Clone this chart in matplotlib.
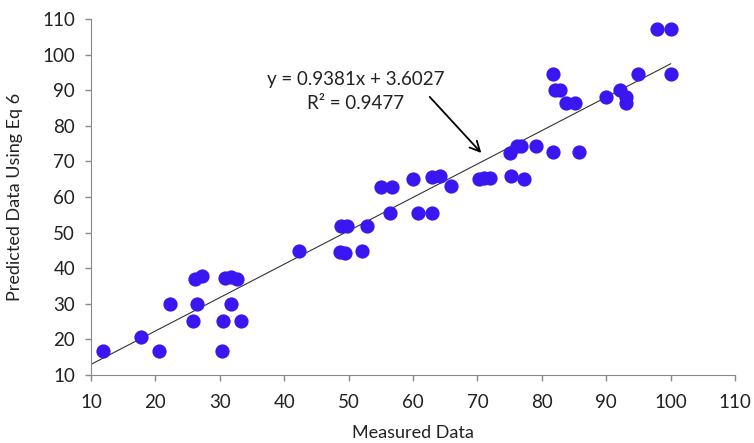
import matplotlib
matplotlib.use("Agg")
import matplotlib.pyplot as plt
import numpy as np

# measured vs predicted values
measured = [11.9, 17.8, 20.6, 22.3, 25.9, 26.5, 26.1, 27.2, 30.4, 30.5,
            30.8, 31.7, 32.6, 31.8, 33.3, 42.3, 48.6, 49.4, 48.8, 49.8,
            52.1, 52.9, 55.1, 56.8, 56.4, 60.0, 60.8, 62.9, 62.9, 64.2,
            65.9, 70.3, 71.0, 72.0, 75.0, 75.2, 76.2, 76.7, 77.2, 79.1,
            81.8, 85.8, 81.8, 82.0, 82.8, 83.8, 85.2, 89.9, 92.1, 93.1,
            93.1, 95.0, 97.9, 100.0, 100.0]
predicted = [16.7, 20.6, 16.7, 29.9, 25.2, 29.9, 37.0, 37.8, 16.7, 25.2,
             37.2, 37.6, 37.0, 29.9, 25.2, 44.8, 44.6, 44.2, 51.9, 51.9,
             44.9, 51.9, 62.9, 62.9, 55.4, 65.0, 55.4, 65.7, 55.4, 65.9,
             63.1, 65.1, 65.2, 65.3, 72.4, 66.0, 74.4, 74.4, 65.1, 74.4,
             72.6, 72.6, 94.6, 90.1, 90.1, 86.3, 86.3, 88.2, 90.1, 88.2,
             86.3, 94.6, 107.1, 107.1, 94.6]
slope = 0.9381
intercept = 3.6027
r2 = 0.9477
fit_x = [10, 100]
x_ticks = [10, 20, 30, 40, 50, 60, 70, 80, 90, 100, 110]
y_ticks = [10, 20, 30, 40, 50, 60, 70, 80, 90, 100, 110]

plt.rcParams['font.family'] = ['Lato', 'DejaVu Sans']

fig = plt.figure(figsize=(7.54, 4.43), dpi=100)
ax = fig.add_axes([0.1207, 0.1535, 0.8541, 0.8036])

ax.scatter(measured, predicted, s=105, color='#3A16F0', zorder=3, linewidths=0)
fx = np.array(fit_x)
ax.plot(fx, slope * fx + intercept, color='#333333', lw=0.8, zorder=2)

ax.set_xlim(10, 110)
ax.set_ylim(10, 110)
ax.set_xticks(x_ticks)
ax.set_yticks(y_ticks)
ax.tick_params(labelsize=13.5, colors='#888888', length=4.5, width=1,
               labelcolor='#222222', direction='out')
ax.tick_params(axis='x', pad=9)
ax.tick_params(axis='y', pad=7)
for s in ['top', 'right']:
    ax.spines[s].set_visible(False)
for s in ['left', 'bottom']:
    ax.spines[s].set_color('#888888')

ax.set_xlabel('Measured Data', fontsize=13, color='#222222', labelpad=10)
ax.set_ylabel('Predicted Data Using Eq 6', fontsize=13, color='#222222', labelpad=14)

ax.text(51.1, 92.9, 'y = 0.9381x + 3.6027', ha='center', va='center',
        fontsize=13.5, color='#222222')
ax.text(51.1, 86.4, 'R² = %.4f' % r2, ha='center', va='center',
        fontsize=13.5, color='#222222')
ax.annotate('', xy=(70.9, 71.8), xytext=(62.3, 88.7),
            arrowprops=dict(arrowstyle='->', color='black', lw=1.3,
                            mutation_scale=18))

fig.savefig('out.png', dpi=100)
